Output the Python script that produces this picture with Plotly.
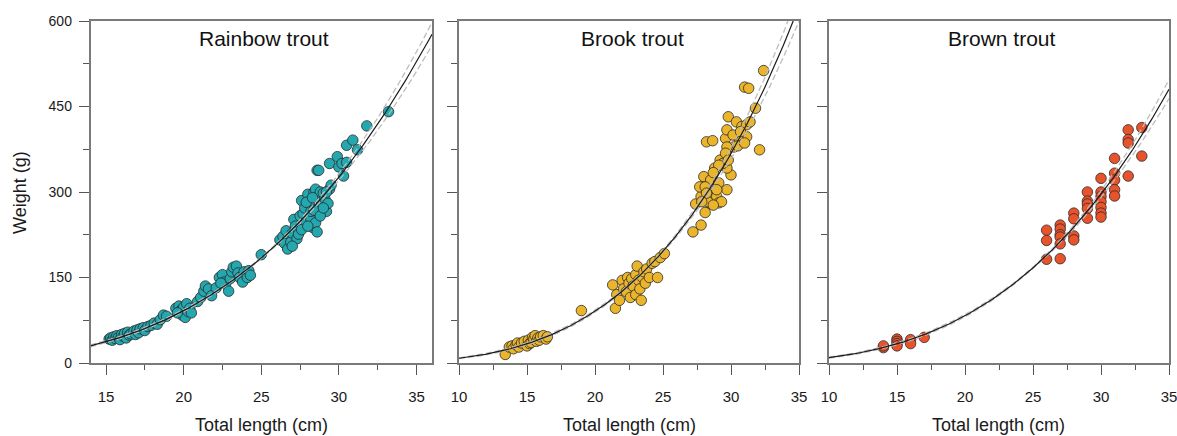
import numpy as np
import plotly.graph_objects as go

# ---------------- data ----------------
species = ["Rainbow trout", "Brook trout", "Brown trout"]

rainbow_length = [15.2, 15.3, 15.4, 15.5, 15.6, 15.7, 15.8, 15.9, 16.0, 16.1, 16.2, 16.3, 16.4, 16.5, 16.6,
                  16.8, 16.9, 17.0, 17.1, 17.2, 17.4, 17.5, 17.7, 17.9, 18.1, 18.3, 18.5, 18.7, 18.9,
                  19.5, 19.7, 19.8, 19.9, 20.0, 20.1, 20.2, 20.3, 20.4, 20.5, 19.6,
                  20.9, 21.1, 21.3, 21.4, 21.6, 21.8,
                  22.1, 22.3, 22.5, 22.6, 22.7, 22.9, 23.0, 23.1, 23.2, 23.4, 23.5, 23.6, 23.8, 23.9, 24.1, 24.2, 24.3, 22.4,
                  25.0,
                  26.2, 26.4, 26.5, 26.6, 26.7, 26.9, 27.0, 27.1, 27.2, 27.3, 27.4, 27.5, 27.6, 27.0,
                  27.6, 27.7, 27.8, 27.9, 28.0, 28.1, 28.2, 28.2, 28.3, 28.4, 28.5, 28.5, 28.6, 28.6, 28.7,
                  28.8, 28.9, 29.0, 29.1, 29.2, 29.3, 29.4, 29.5, 28.0, 28.4, 28.8, 27.9, 28.3, 29.0, 29.2,
                  28.6, 28.7, 29.4, 29.9, 30.0, 30.2, 30.3, 30.5, 30.5, 30.9, 31.2, 31.8, 33.2]
rainbow_weight = [42, 44, 40, 46, 43, 48, 45, 41, 50, 47, 52, 44, 54, 49, 51,
                  56, 50, 58, 53, 60, 62, 57, 64, 66, 70, 68, 76, 84, 82,
                  96, 100, 92, 84, 98, 80, 104, 90, 96, 88, 88,
                  108, 115, 126, 135, 130, 118,
                  132, 150, 155, 142, 138, 126, 148, 160, 168, 170, 158, 150, 142, 160, 150, 162, 154, 140,
                  190,
                  216, 222, 210, 232, 200, 212, 228, 252, 240, 218, 226, 258, 234, 205,
                  285, 262, 272, 248, 296, 280, 252, 266, 238, 300, 305, 246, 230, 290, 270,
                  300, 276, 298, 288, 266, 280, 305, 312, 240, 268, 258, 282, 290, 272, 300,
                  338, 338, 350, 362, 344, 350, 328, 352, 382, 391, 374, 416, 441]

brook_length = [13.4, 13.7, 13.9, 14.0, 14.2, 14.3, 14.4, 14.6, 14.8, 15.0, 15.1, 15.2, 15.3, 15.4, 15.5,
                15.6, 15.7, 15.8, 15.9, 16.0, 16.2, 16.4, 16.5,
                19.0,
                21.3, 21.5, 21.6, 21.8, 22.0, 22.1, 22.3, 22.4, 22.5, 22.6, 22.7, 22.8, 23.0, 23.0, 23.1,
                23.2, 23.3, 23.4, 23.5, 23.6, 23.7, 23.8, 24.0, 24.2, 24.4, 24.6, 24.8, 25.1,
                27.2, 27.8, 28.1, 27.4, 27.8, 27.9, 28.0, 28.5, 28.6, 28.95, 29.1, 29.3, 29.7, 30.0,
                28.8, 29.2, 29.7, 28.5, 29.1, 28.2, 28.65, 29.6, 29.7, 29.8, 30.4, 30.8, 31.15, 31.15,
                31.4, 30.5, 30.2, 30.5, 31.0, 29.7, 31.8, 32.1, 31.0, 31.3, 32.4, 30.15, 30.7, 29.6,
                29.4, 29.1, 28.7, 29.8, 27.7, 28.95, 28.3, 28.1, 28.2, 28.7, 27.85]
brook_weight = [15, 28, 30, 25, 32, 35, 28, 35, 38, 30, 40, 34, 36, 45, 42,
                48, 38, 44, 40, 46, 48, 42, 46,
                92,
                137, 96, 120, 110, 145, 130, 125, 150, 140, 115, 148, 135, 155, 120, 170,
                145, 130, 110, 150, 160, 140, 165, 150, 175, 178, 150, 185, 192,
                230, 242, 264, 279, 292, 309, 327, 280, 295, 292, 281, 283, 304, 330,
                342, 356, 342, 321, 316, 388, 390, 394, 409, 432, 423, 415, 397, 418,
                423, 397, 379, 381, 386, 379, 447, 374, 484, 482, 513, 400, 406, 368,
                350, 347, 334, 356, 309, 304, 283, 309, 298, 277, 283]

brown_length = [14, 14, 15, 15, 15, 15, 16, 16, 17,
                26, 26, 26, 27, 27, 27, 27, 27, 27, 28, 28, 28, 28,
                29, 29, 29, 29, 29, 30, 30, 30, 30, 30, 30, 30,
                31, 31, 31, 31, 31, 32, 32, 32, 32, 33, 33]
brown_weight = [27, 30, 42, 38, 34, 30, 41, 34, 45,
                233, 215, 182, 242, 235, 225, 221, 209, 183, 263, 253, 223, 216,
                300, 284, 279, 271, 254, 324, 300, 292, 283, 273, 263, 256,
                359, 333, 321, 304, 293, 409, 392, 386, 328, 413, 363]

# length-weight fits W = a * L^b, with a ribbon half-width parameter for the dashed bands
fit_a = [0.00776, 0.002945, 0.00681]
fit_b = [3.13, 3.45, 3.14]
band_k = [0.095, 0.11, 0.10]
band_center = [25.0, 24.0, 25.0]
x_ranges = [[14, 36], [10, 35], [10, 35]]
colors = ["#23a8b0", "#ebb52b", "#e9532b"]

lengths = [rainbow_length, brook_length, brown_length]
weights = [rainbow_weight, brook_weight, brown_weight]

# ---------------- layout geometry ----------------
W, H = 1177, 436
x_domains = [[90.5 / W, 432 / W], [459 / W, 799 / W], [829 / W, 1169 / W]]
y_domain = [1 - 363 / H, 1 - 21 / H]

FONT = "Liberation Sans, Arial, sans-serif"
AX_COLOR = "#7a7a7a"

fig = go.Figure()

for i in range(3):
    xa = "x" if i == 0 else f"x{i+1}"
    ya = "y" if i == 0 else f"y{i+1}"
    fig.add_trace(go.Scatter(
        x=lengths[i], y=weights[i], mode="markers", xaxis=xa, yaxis=ya,
        marker=dict(size=10.5, color=colors[i], line=dict(color="#2b2b2b", width=0.8)),
        showlegend=False, hoverinfo="x+y"))
    L = np.linspace(x_ranges[i][0], x_ranges[i][1], 300)
    fit = fit_a[i] * L ** fit_b[i]
    spread = band_k[i] * np.sqrt(0.005 + (np.log(L) - np.log(band_center[i])) ** 2)
    for sgn in (1, -1):
        fig.add_trace(go.Scatter(
            x=L, y=fit * np.exp(sgn * spread), mode="lines", xaxis=xa, yaxis=ya,
            line=dict(color="#bdbdbd", width=1.3, dash="6px,3px"),
            showlegend=False, hoverinfo="skip"))
    fig.add_trace(go.Scatter(
        x=L, y=fit, mode="lines", xaxis=xa, yaxis=ya,
        line=dict(color="#1a1a1a", width=1.2),
        showlegend=False, hoverinfo="skip"))

layout = dict(
    width=W, height=H, autosize=False,
    margin=dict(l=0, r=0, t=0, b=0, autoexpand=False),
    paper_bgcolor="white", plot_bgcolor="white",
    font=dict(family=FONT, color="#1a1a1a"),
)
for i in range(3):
    xk = "xaxis" if i == 0 else f"xaxis{i+1}"
    yk = "yaxis" if i == 0 else f"yaxis{i+1}"
    ya = "y" if i == 0 else f"y{i+1}"
    xa = "x" if i == 0 else f"x{i+1}"
    layout[xk] = dict(
        domain=x_domains[i], range=x_ranges[i], anchor=ya, automargin=False,
        tick0=0, dtick=5, ticks="outside", ticklen=10, tickwidth=1, tickcolor="#555",
        minor=dict(dtick=2.5, tick0=0, ticks="outside", ticklen=5, tickcolor="#555"),
        showline=True, linecolor=AX_COLOR, linewidth=1.5, mirror=True,
        showgrid=False, zeroline=False, ticklabeloverflow="allow",
        tickfont=dict(size=15, family=FONT, color="#1a1a1a"), ticklabelstandoff=9,
    )
    layout[yk] = dict(
        domain=y_domain, range=[0, 600], anchor=xa, automargin=False,
        tick0=0, dtick=150, ticks="outside", ticklen=10, tickwidth=1, tickcolor="#555",
        minor=dict(dtick=75, tick0=0, ticks="outside", ticklen=6, tickcolor="#555"),
        showline=True, linecolor=AX_COLOR, linewidth=1.5, mirror=True,
        showgrid=False, zeroline=False, showticklabels=(i == 0),
        tickfont=dict(size=14, family=FONT, color="#1a1a1a"), ticklabelstandoff=4,
    )
fig.update_layout(**layout)

for i in range(3):
    cx = (x_domains[i][0] + x_domains[i][1]) / 2
    fig.add_annotation(text=species[i], x=cx + 3 / W, y=1 - 39 / H, xref="paper", yref="paper",
                       showarrow=False, font=dict(size=21, family=FONT, color="#111"),
                       xanchor="center", yanchor="middle")
    fig.add_annotation(text="Total length (cm)", x=cx, y=1 - 425 / H, xref="paper", yref="paper",
                       showarrow=False, font=dict(size=18, family=FONT, color="#1a1a1a"),
                       xanchor="center", yanchor="middle")
fig.add_annotation(text="Weight (g)", x=20 / W, y=1 - 193 / H, xref="paper", yref="paper",
                   showarrow=False, textangle=-90, font=dict(size=18, family=FONT, color="#1a1a1a"),
                   xanchor="center", yanchor="middle")

fig.write_html("out.html", config={"displayModeBar": False},
               post_script="document.body.style.margin='0px';")
